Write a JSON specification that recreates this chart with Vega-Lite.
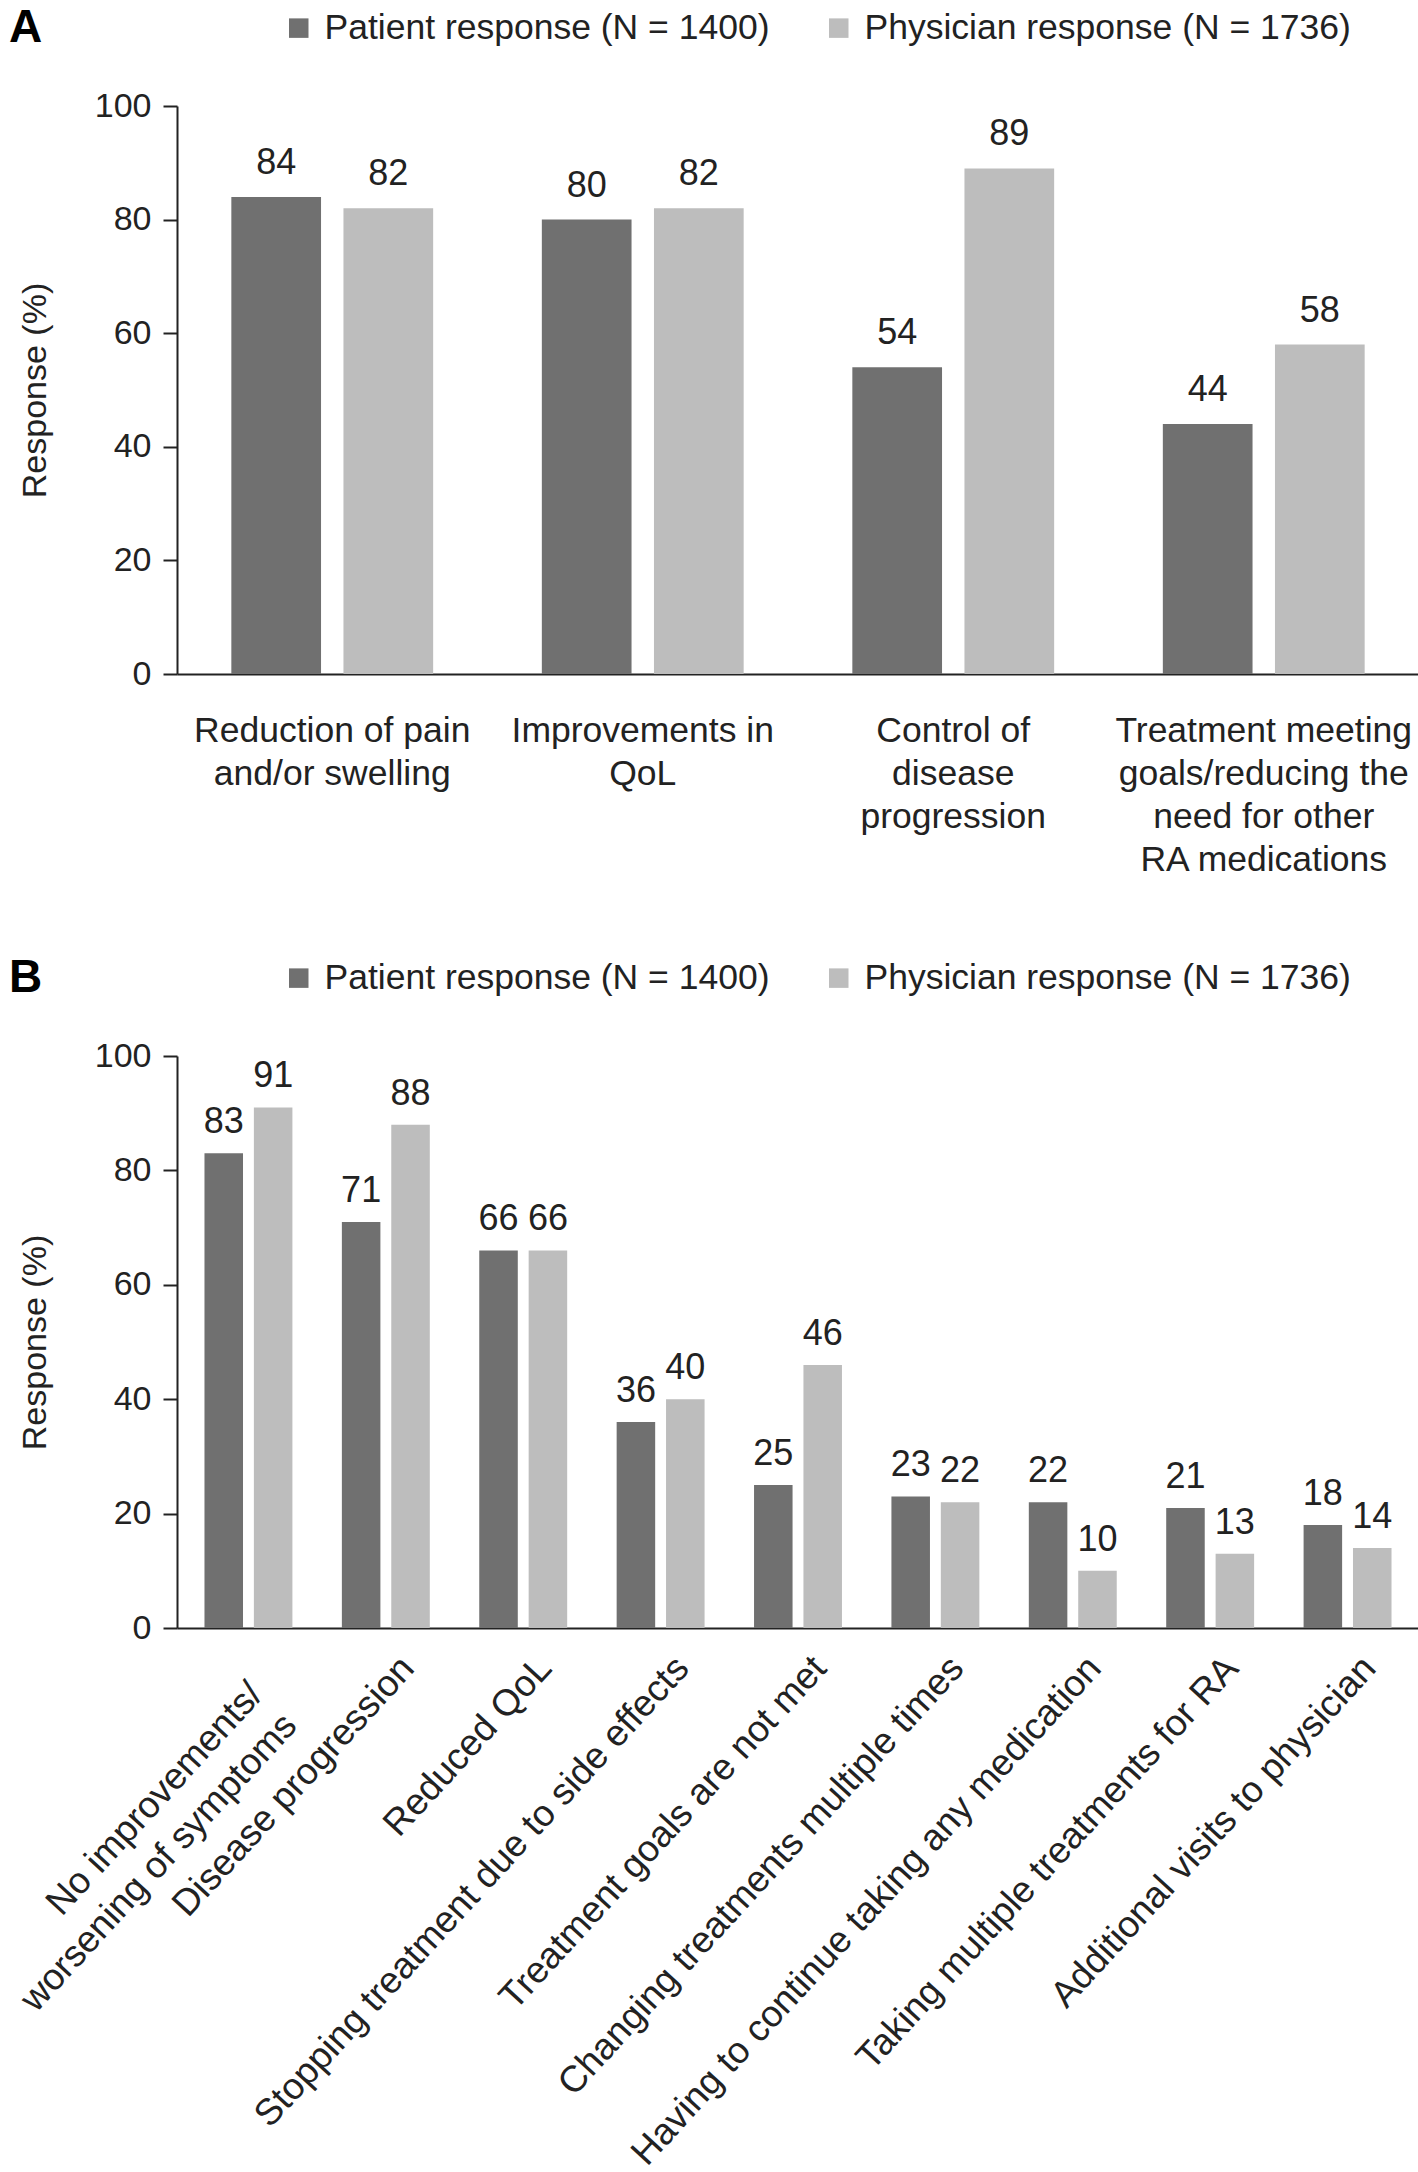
{
  "$schema": "https://vega.github.io/schema/vega-lite/v6.json",
  "padding": {"left": -21, "top": 10, "right": 0, "bottom": 0},
  "background": "white",
  "config": {
    "view": {"stroke": null},
    "font": "Liberation Sans",
    "axis": {"labelFont": "Liberation Sans", "titleFont": "Liberation Sans", "labelColor": "#222", "titleColor": "#222", "domainColor": "#222", "tickColor": "#222", "domainWidth": 2, "tickWidth": 2, "grid": false},
    "legend": {"labelFont": "Liberation Sans", "titleFont": "Liberation Sans"}
  },
  "resolve": {"scale": {"color": "independent", "x": "independent", "y": "independent", "xOffset": "independent"}, "legend": {"color": "independent"}},
  "spacing": 82,
  "vconcat": [
    {
      "width": 1242,
      "height": 568,
      "data": {"values": [
        {"category": "Reduction of pain|and/or swelling", "group": "Patient response (N = 1400)", "value": 84},
        {"category": "Reduction of pain|and/or swelling", "group": "Physician response (N = 1736)", "value": 82},
        {"category": "Improvements in|QoL", "group": "Patient response (N = 1400)", "value": 80},
        {"category": "Improvements in|QoL", "group": "Physician response (N = 1736)", "value": 82},
        {"category": "Control of|disease|progression", "group": "Patient response (N = 1400)", "value": 54},
        {"category": "Control of|disease|progression", "group": "Physician response (N = 1736)", "value": 89},
        {"category": "Treatment meeting|goals/reducing the|need for other|RA medications", "group": "Patient response (N = 1400)", "value": 44},
        {"category": "Treatment meeting|goals/reducing the|need for other|RA medications", "group": "Physician response (N = 1736)", "value": 58}
      ]},
      "encoding": {
        "x": {"field": "category", "type": "nominal", "sort": null,
              "scale": {"paddingInner": 0.35, "paddingOuter": 0.175},
              "axis": {"title": null, "labelAngle": 0, "ticks": false, "tickSize": 0, "labelFontSize": 35.5, "labelLineHeight": 43, "labelPadding": 39, "labelLimit": 0,
                       "labelExpr": "split(datum.label, '|')"}},
        "xOffset": {"field": "group", "type": "nominal", "scale": {"paddingInner": 0.2, "paddingOuter": 0}},
        "y": {"field": "value", "type": "quantitative", "scale": {"domain": [0, 100]},
              "axis": {"title": "Response (%)", "values": [0, 20, 40, 60, 80, 100], "labelFontSize": 34, "titleFontSize": 34, "titleFontWeight": "normal", "tickSize": 14, "labelPadding": 12, "titlePadding": 42}}
      },
      "layer": [
        {"mark": {"type": "bar"},
         "encoding": {"color": {"field": "group", "type": "nominal",
            "scale": {"domain": ["Patient response (N = 1400)", "Physician response (N = 1736)"], "range": ["#707070", "#bdbdbd"]},
            "legend": {"orient": "none", "legendX": -168, "legendY": -96, "direction": "horizontal", "title": "A", "titleOrient": "left", "titleFontSize": 46, "titleFontWeight": "bold", "titleColor": "#000", "titlePadding": 238, "labelFontSize": 35.5, "labelColor": "#222", "symbolType": "square", "symbolSize": 380, "symbolStrokeWidth": 0, "labelOffset": 8, "columnPadding": 51, "labelLimit": 0}}}},
        {"mark": {"type": "text", "baseline": "bottom", "dy": -15, "fontSize": 36, "color": "#222"},
         "encoding": {"text": {"field": "value", "type": "quantitative"}}}
      ]
    },
    {
      "width": 1242,
      "height": 572,
      "data": {"values": [
        {"category": "No improvements/|worsening of symptoms", "group": "Patient response (N = 1400)", "value": 83},
        {"category": "No improvements/|worsening of symptoms", "group": "Physician response (N = 1736)", "value": 91},
        {"category": "Disease progression", "group": "Patient response (N = 1400)", "value": 71},
        {"category": "Disease progression", "group": "Physician response (N = 1736)", "value": 88},
        {"category": "Reduced QoL", "group": "Patient response (N = 1400)", "value": 66},
        {"category": "Reduced QoL", "group": "Physician response (N = 1736)", "value": 66},
        {"category": "Stopping treatment due to side effects", "group": "Patient response (N = 1400)", "value": 36},
        {"category": "Stopping treatment due to side effects", "group": "Physician response (N = 1736)", "value": 40},
        {"category": "Treatment goals are not met", "group": "Patient response (N = 1400)", "value": 25},
        {"category": "Treatment goals are not met", "group": "Physician response (N = 1736)", "value": 46},
        {"category": "Changing treatments multiple times", "group": "Patient response (N = 1400)", "value": 23},
        {"category": "Changing treatments multiple times", "group": "Physician response (N = 1736)", "value": 22},
        {"category": "Having to continue taking any medication", "group": "Patient response (N = 1400)", "value": 22},
        {"category": "Having to continue taking any medication", "group": "Physician response (N = 1736)", "value": 10},
        {"category": "Taking multiple treatments for RA", "group": "Patient response (N = 1400)", "value": 21},
        {"category": "Taking multiple treatments for RA", "group": "Physician response (N = 1736)", "value": 13},
        {"category": "Additional visits to physician", "group": "Patient response (N = 1400)", "value": 18},
        {"category": "Additional visits to physician", "group": "Physician response (N = 1736)", "value": 14}
      ]},
      "encoding": {
        "x": {"field": "category", "type": "nominal", "sort": null,
              "scale": {"paddingInner": 0.36, "paddingOuter": 0.2},
              "axis": {"title": null, "labelAngle": -47.5, "labelAlign": "right", "labelBaseline": "middle", "ticks": false, "tickSize": 0, "labelFontSize": 37, "labelLineHeight": 46, "labelLimit": 0,
                       "labelPadding": {"condition": {"test": "indexof(datum.value, '|') >= 0", "value": 60}, "value": 34},
                       "labelOffset": {"condition": {"test": "indexof(datum.value, '|') >= 0", "value": 8}, "value": 22},
                       "labelExpr": "split(datum.label, '|')"}},
        "xOffset": {"field": "group", "type": "nominal", "scale": {"paddingInner": 0.22, "paddingOuter": 0}},
        "y": {"field": "value", "type": "quantitative", "scale": {"domain": [0, 100]},
              "axis": {"title": "Response (%)", "values": [0, 20, 40, 60, 80, 100], "labelFontSize": 34, "titleFontSize": 34, "titleFontWeight": "normal", "tickSize": 14, "labelPadding": 12, "titlePadding": 42}}
      },
      "layer": [
        {"mark": {"type": "bar"},
         "encoding": {"color": {"field": "group", "type": "nominal",
            "scale": {"domain": ["Patient response (N = 1400)", "Physician response (N = 1736)"], "range": ["#707070", "#bdbdbd"]},
            "legend": {"orient": "none", "legendX": -168, "legendY": -96, "direction": "horizontal", "title": "B", "titleOrient": "left", "titleFontSize": 46, "titleFontWeight": "bold", "titleColor": "#000", "titlePadding": 238, "labelFontSize": 35.5, "labelColor": "#222", "symbolType": "square", "symbolSize": 380, "symbolStrokeWidth": 0, "labelOffset": 8, "columnPadding": 51, "labelLimit": 0}}}},
        {"mark": {"type": "text", "baseline": "bottom", "dy": -12, "fontSize": 36, "color": "#222"},
         "encoding": {"text": {"field": "value", "type": "quantitative"}}}
      ]
    }
  ]
}
